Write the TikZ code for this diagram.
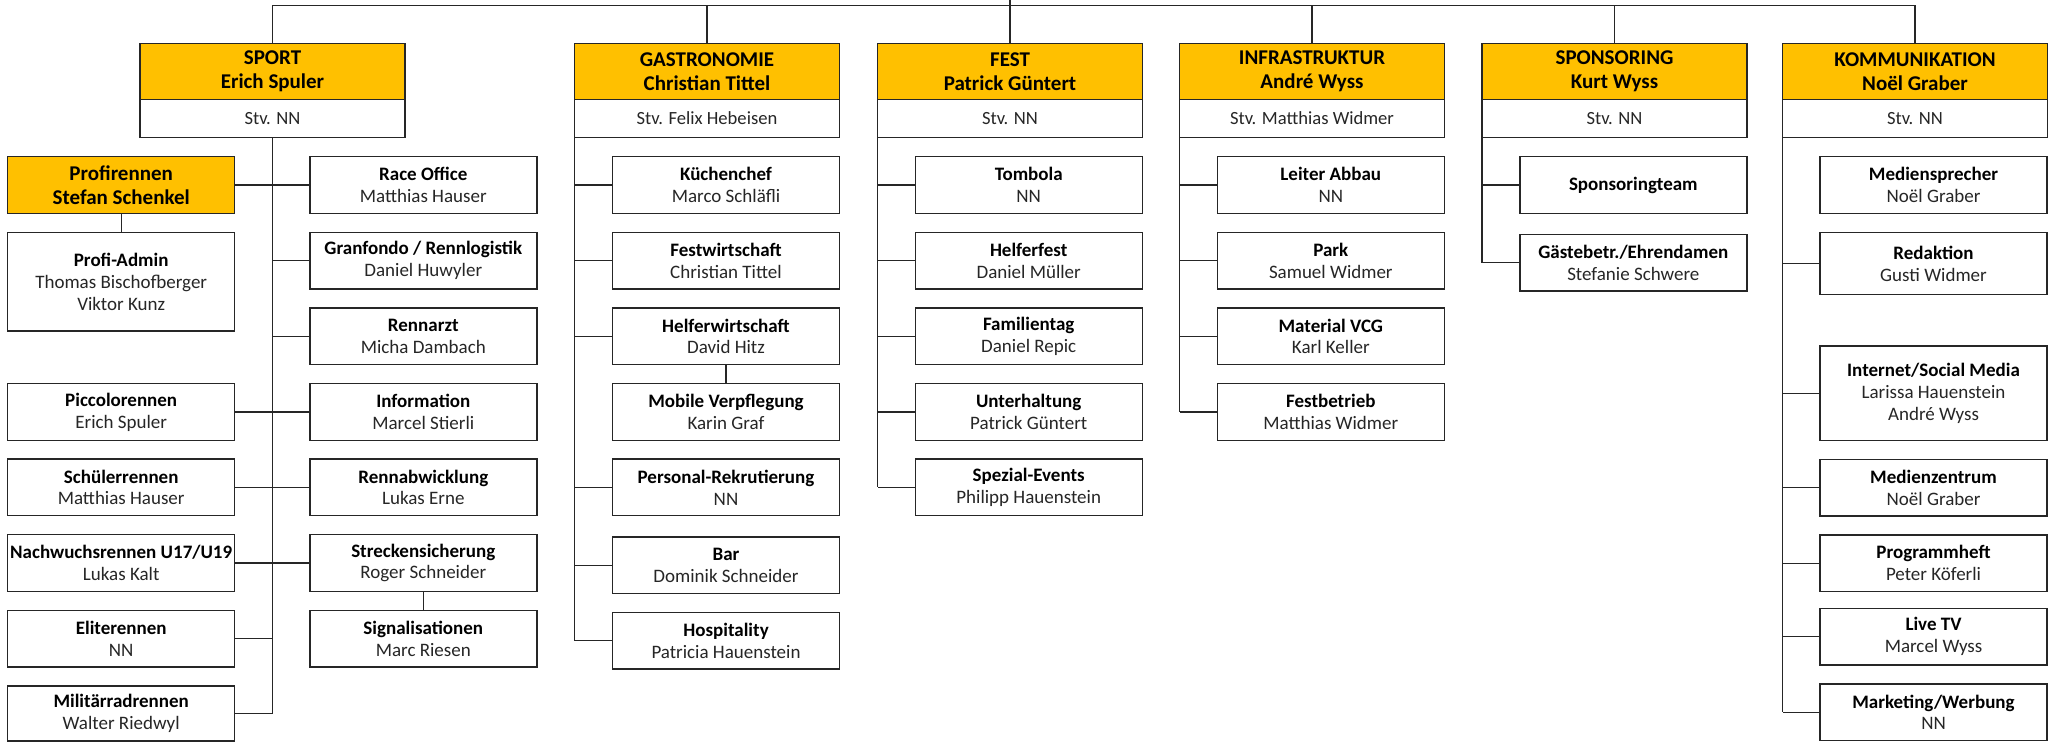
\documentclass[tikz,border=0pt]{standalone}
\usepackage{fontspec}
\setmainfont{Carlito}
\usepackage{tikz}
\usetikzlibrary{positioning, calc}

\definecolor{gold}{HTML}{FFC000}
\definecolor{linie}{HTML}{262626}

\newcommand{\titel}[1]{\textbf{\color{black}#1}}

\tikzset{
    x=1pt, y=-1pt,
    box/.style={draw=linie, line width=1.4pt, inner sep=0pt, outer sep=0pt, align=center},
    chef/.style={box, fill=gold, minimum width=265pt, minimum height=55.6pt,
        font=\fontsize{21}{24.5}\selectfont\bfseries},
    stv/.style={box, fill=white, minimum width=265pt, minimum height=38pt,
        font=\fontsize{18.6}{21.7}\selectfont, text=linie},
    amt/.style={box, fill=white, minimum width=227pt, minimum height=56.7pt,
        font=\fontsize{19}{21.9}\selectfont, text=linie},
    profi/.style={amt, fill=gold, text=black, font=\fontsize{21}{24.5}\selectfont\bfseries},
    verb/.style={draw=linie, line width=1.2pt},
}

\begin{document}
\begin{tikzpicture}
    \useasboundingbox (0,0) rectangle (2048,742);

    % column positions
    \def\xsl{121.2}
    \def\xsr{423.3}
    \def\xga{726}
    \def\xfe{1028.7}
    \def\xin{1330.8}
    \def\xsp{1633.3}
    \def\xko{1933.5}

    % department heads with deputy
    \foreach \n/\x/\a/\b/\s in {
        sport/272.5/SPORT/Erich Spuler/NN,
        gastro/707/GASTRONOMIE/Christian Tittel/Felix Hebeisen,
        fest/1010/FEST/Patrick Güntert/NN,
        infra/1312/INFRASTRUKTUR/André Wyss/Matthias Widmer,
        spons/1614.5/SPONSORING/Kurt Wyss/NN,
        komm/1915/KOMMUNIKATION/Noël Graber/NN}
    {
        \node[chef] (\n) at (\x,71.5) {\a\\\b};
        \node[stv, below=0pt of \n] (\n-stv) {Stv. \s};
    }

    % top bus
    \coordinate (oben) at (1010,0);
    \draw[verb] (oben) -- (fest.north);
    \draw[verb] (sport.north) -- ++(0,-38) -| (komm.north);
    \foreach \n in {gastro, infra, spons}
        \draw[verb] (\n.north) -- ++(0,-38);

    % ordinary boxes
    \foreach \n/\x/\y/\t/\p in {
        picco/\xsl/412/Piccolorennen/Erich Spuler,
        schueler/\xsl/487.4/Schülerrennen/Matthias Hauser,
        nachwuchs/\xsl/563/{Nachwuchsrennen U17/U19}/Lukas Kalt,
        elite/\xsl/638.8/Eliterennen/NN,
        race/\xsr/185/Race Office/Matthias Hauser,
        granfondo/\xsr/260.7/{Granfondo / Rennlogistik}/Daniel Huwyler,
        rennarzt/\xsr/336.4/Rennarzt/Micha Dambach,
        info/\xsr/412/Information/Marcel Stierli,
        rennab/\xsr/487.4/Rennabwicklung/Lukas Erne,
        strecke/\xsr/563/Streckensicherung/Roger Schneider,
        signal/\xsr/638.8/Signalisationen/Marc Riesen,
        kueche/\xga/185/Küchenchef/Marco Schläfli,
        festw/\xga/260.7/Festwirtschaft/Christian Tittel,
        helferw/\xga/336.4/Helferwirtschaft/David Hitz,
        mobil/\xga/412/Mobile Verpflegung/Karin Graf,
        personal/\xga/487.4/Personal-Rekrutierung/NN,
        bar/\xga/565.3/Bar/Dominik Schneider,
        hosp/\xga/640.8/Hospitality/Patricia Hauenstein,
        tombola/\xfe/185/Tombola/NN,
        helferfest/\xfe/260.7/Helferfest/Daniel Müller,
        familie/\xfe/336.4/Familientag/Daniel Repic,
        unterhalt/\xfe/412/Unterhaltung/Patrick Güntert,
        spezial/\xfe/487.4/Spezial-Events/Philipp Hauenstein,
        abbau/\xin/185/Leiter Abbau/NN,
        park/\xin/260.7/Park/Samuel Widmer,
        material/\xin/336.4/Material VCG/Karl Keller,
        festbetrieb/\xin/412/Festbetrieb/Matthias Widmer,
        gaeste/\xsp/262.7/{Gästebetr./Ehrendamen}/Stefanie Schwere,
        medien/\xko/185/Mediensprecher/Noël Graber,
        mzentrum/\xko/487.7/Medienzentrum/Noël Graber,
        progheft/\xko/563.3/Programmheft/Peter Köferli,
        livetv/\xko/636.7/Live TV/Marcel Wyss,
        marketing/\xko/712.3/{Marketing/Werbung}/NN}
    {
        \node[amt] (\n) at (\x,\y) {\titel{\t}\\\p};
    }

    % special boxes
    \node[profi] (prof) at (\xsl,185) {Profirennen\\Stefan Schenkel};
    \node[amt, minimum height=98.7pt] (padmin) at (\xsl,281.7)
        {\titel{Profi-Admin}\\Thomas Bischofberger\\Viktor Kunz};
    \node[amt, minimum height=55pt] (milit) at (\xsl,713.5) {\titel{Militärradrennen}\\Walter Riedwyl};
    \node[amt] (steam) at (\xsp,185) {\titel{Sponsoringteam}};
    \node[amt, minimum height=62.4pt] (redaktion) at (\xko,263.5) {\titel{Redaktion}\\Gusti Widmer};
    \node[amt, minimum height=94.7pt] (internet) at (\xko,393.3)
        {\titel{Internet/Social Media}\\Larissa Hauenstein\\André Wyss};

    % sport: middle line
    \draw[verb] (sport-stv.south) -- (sport-stv.south |- milit.east);
    \foreach \n in {prof, picco, schueler, nachwuchs, elite, milit}
        \draw[verb] (\n.east) -- (\n.east -| sport-stv.south);
    \foreach \n in {race, granfondo, rennarzt, info, rennab, strecke}
        \draw[verb] (\n.west) -- (\n.west -| sport-stv.south);
    \draw[verb] (prof.south) -- (padmin.north);
    \draw[verb] (strecke.south) -- (signal.north);

    % other columns: line on the left
    \foreach \k/\last in {gastro/hosp, fest/spezial, infra/festbetrieb, spons/gaeste, komm/marketing}
        \draw[verb] (\k-stv.south west) -- (\k-stv.south west |- \last.west);
    \foreach \k/\n in {
        gastro/kueche, gastro/festw, gastro/helferw, gastro/personal, gastro/bar, gastro/hosp,
        fest/tombola, fest/helferfest, fest/familie, fest/unterhalt, fest/spezial,
        infra/abbau, infra/park, infra/material, infra/festbetrieb,
        spons/steam, spons/gaeste,
        komm/redaktion, komm/internet, komm/mzentrum, komm/progheft, komm/livetv, komm/marketing}
        \draw[verb] (\n.west) -- (\n.west -| \k-stv.south west);
    \draw[verb] (helferw.south) -- (mobil.north);
\end{tikzpicture}
\end{document}
